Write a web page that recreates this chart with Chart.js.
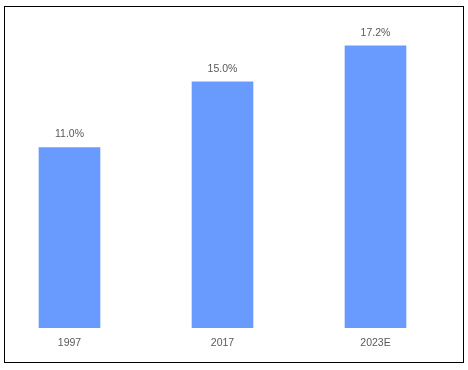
<!DOCTYPE html>
<html>
<head>
<meta charset="utf-8">
<script src="https://cdn.jsdelivr.net/npm/chart.js@4/dist/chart.umd.min.js"></script>
<style>
	html, body { margin: 0; padding: 0; background: #fff; }
	#wrap { position: relative; width: 468px; height: 370px; }
	#box { position: absolute; left: 4px; top: 6px; width: 458px; height: 355px; border: 1.5px solid #000; }
	#myChart { position: absolute; left: 0; top: 0; }
</style>
</head>
<body>
<div id="wrap">
	<div id="box"></div>
	<canvas id="myChart" width="468" height="370"></canvas>
</div>
<script>
var years = ['1997', '2017', '2023E'];
var shares = [11.0, 15.0, 17.2];
var yMax = 20;

// draws the % value above each bar
var valueLabels = {
	id: 'valueLabels',
	afterDatasetsDraw: function(chart) {
		var ctx = chart.ctx;
		var meta = chart.getDatasetMeta(0);
		ctx.save();
		ctx.font = '10.5px "Liberation Sans", Arial, sans-serif';
		ctx.fillStyle = '#595959';
		ctx.textAlign = 'center';
		ctx.textBaseline = 'middle';
		meta.data.forEach(function(bar, i) {
			ctx.fillText(shares[i].toFixed(1) + '%', bar.x, bar.y - 13);
		});
		ctx.restore();
	}
};

var ctx = document.getElementById('myChart');

var barGraph = new Chart(ctx, {
	type: 'bar',
	data: {
		labels: years,
		datasets: [{
			data: shares,
			backgroundColor: '#699bff',
			borderWidth: 0,
			barThickness: 61,
			clip: false
		}]
	},
	options: {
		responsive: false,
		animation: false,
		layout: { padding: { left: 69.5, right: 92.5, top: 0, bottom: 0 } },
		plugins: {
			legend: { display: false },
			tooltip: { enabled: false }
		},
		scales: {
			x: {
				offset: false,
				border: { display: false },
				grid: { display: false, drawTicks: false },
				ticks: {
					padding: 9,
					color: '#595959',
					font: { family: '"Liberation Sans", Arial, sans-serif', size: 10.5 },
					maxRotation: 0,
					autoSkip: false
				},
				afterFit: function(scale) { scale.height = 42.3; }
			},
			y: {
				display: false,
				min: 0,
				max: yMax
			}
		}
	},
	plugins: [valueLabels]
});
</script>
</body>
</html>
